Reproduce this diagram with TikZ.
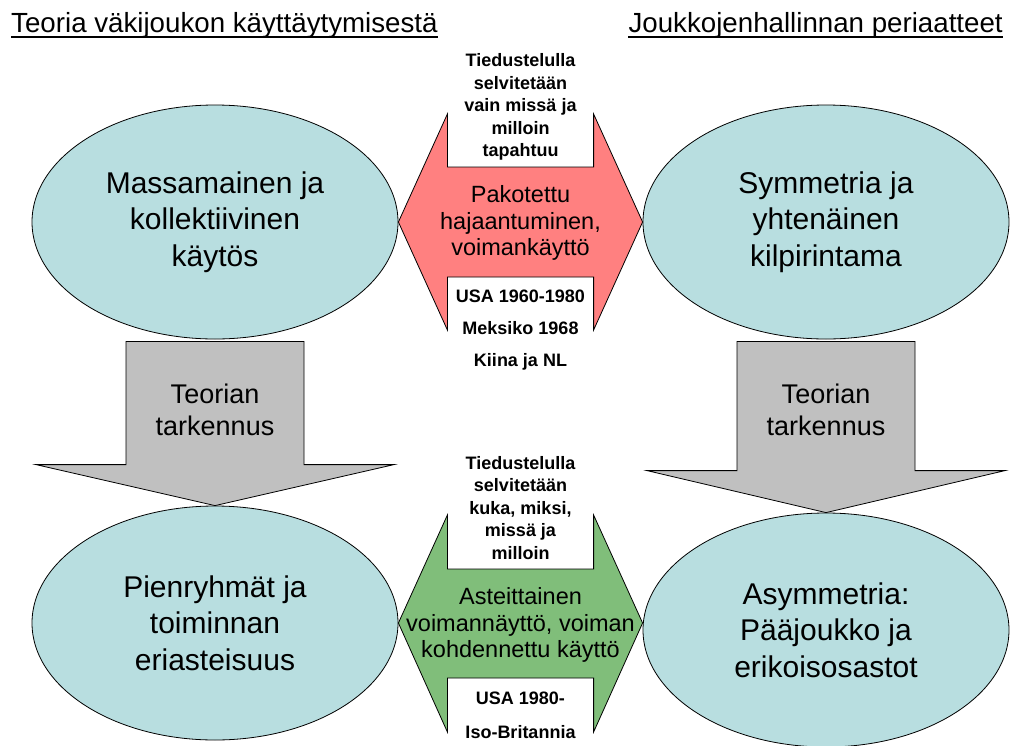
\documentclass[tikz,border=0pt]{standalone}
\usepackage{fontspec}
\setmainfont{Liberation Sans}
\usetikzlibrary{shapes.geometric,calc,positioning}

\definecolor{crowdcyan}{RGB}{184,222,224}
\definecolor{refgray}{RGB}{192,192,192}
\definecolor{pushred}{RGB}{255,128,128}
\definecolor{showgreen}{RGB}{128,190,122}

\newcommand{\shaftw}{89}
\newcommand{\headw}{179}

\begin{document}
\begin{tikzpicture}[x=1pt,y=-1pt,
  blob/.style={ellipse, draw, line width=0.8pt, fill=crowdcyan, minimum width=366pt, minimum height=234pt, inner sep=0pt, align=center, font=\fontsize{30}{36.5}\selectfont},
  refine/.style={draw, line width=0.8pt, fill=refgray},
  pushed/.style={draw, line width=0.8pt, fill=pushred},
  shown/.style={draw, line width=0.8pt, fill=showgreen},
  midtext/.style={align=center, font=\fontsize{23.5}{26.5}\selectfont},
  steptext/.style={align=center, font=\fontsize{27}{32}\selectfont},
  intel/.style={align=center, font=\fontsize{18}{22.5}\bfseries\selectfont},
  cases/.style={align=center, font=\fontsize{18}{32}\bfseries\selectfont},
  heading/.style={inner sep=0pt, font=\fontsize{27.7}{30}\selectfont}]
  \useasboundingbox (0,0) rectangle (1010,745);

  % headings
  \node[heading, anchor=base west] (theory) at (11,32) {Teoria väkijoukon käyttäytymisestä};
  \node[heading, anchor=base east] (rules) at (1003,32) {Joukkojenhallinnan periaatteet};
  \draw[line width=1.3pt] ($(theory.base west)+(0,5)$) -- ($(theory.base east)+(0,5)$);
  \draw[line width=1.3pt] ($(rules.base west)+(0,5)$) -- ($(rules.base east)+(0,5)$);

  % the four ellipses
  \node[blob] (mob) at (215,222) {Massamainen ja\\kollektiivinen\\käytös};
  \node[blob] (sym) at (826,222) {Symmetria ja\\yhtenäinen\\kilpirintama};
  \node[blob] (grp) at (215,623) {Pienryhmät ja\\toiminnan\\eriasteisuus};
  \node[blob] (asym) at (826,630) {Asymmetria:\\Pääjoukko ja\\erikoisosastot};

  % refinement arrows
  \draw[refine] ($(mob.south)+(-\shaftw,2)$) -- ($(mob.south)+(\shaftw,2)$) -- ($(grp.north)+(\shaftw,-41)$) -- ($(grp.north)+(\headw,-41)$) -- (grp.north) -- ($(grp.north)+(-\headw,-41)$) -- ($(grp.north)+(-\shaftw,-41)$) -- cycle;
  \draw[refine] ($(sym.south)+(-\shaftw,2)$) -- ($(sym.south)+(\shaftw,2)$) -- ($(asym.north)+(\shaftw,-42)$) -- ($(asym.north)+(\headw,-42)$) -- (asym.north) -- ($(asym.north)+(-\headw,-42)$) -- ($(asym.north)+(-\shaftw,-42)$) -- cycle;
  \node[steptext] (ref1) at ($(mob.south)+(0,70)$) {Teorian\\tarkennus};
  \node[steptext] (ref2) at ($(sym.south)+(0,70)$) {Teorian\\tarkennus};

  % red double arrow
  \draw[pushed] (mob.east) -- ++(49,-108) -- ++(0,53) -- ($(sym.west)+(-49,-55)$) -- ++(0,-53) -- (sym.west) -- ++(-49,108) -- ++(0,-53) -- ($(mob.east)+(49,55)$) -- ++(0,53) -- cycle;
  \node[midtext] (push) at ($(mob.east)!0.5!(sym.west)+(0,1)$) {Pakotettu\\hajaantuminen,\\voimankäyttö};
  \node[intel] (spy1) at ($(push)+(0,-116)$) {Tiedustelulla\\selvitetään\\vain missä ja\\milloin\\tapahtuu};
  \node[cases] (past1) at ($(push)+(0,107)$) {USA 1960-1980\\Meksiko 1968\\Kiina ja NL};

  % green double arrow
  \coordinate (gr) at (asym.west |- grp.east);
  \draw[shown] (grp.east) -- ++(49,-108) -- ++(0,54) -- ($(gr)+(-49,-54)$) -- ++(0,-54) -- (gr) -- ++(-49,109) -- ++(0,-54) -- ($(grp.east)+(49,55)$) -- ++(0,54) -- cycle;
  \node[midtext] (show) at ($(grp.east)!0.5!(gr)+(0,2)$) {Asteittainen\\voimannäyttö, voiman\\kohdennettu käyttö};
  \node[intel] (spy2) at ($(show)+(0,-117)$) {Tiedustelulla\\selvitetään\\kuka, miksi,\\missä ja\\milloin};
  \node[cases, font=\fontsize{18}{34}\bfseries\selectfont] (past2) at ($(show)+(0,90)$) {USA 1980-\\Iso-Britannia};
\end{tikzpicture}
\end{document}
